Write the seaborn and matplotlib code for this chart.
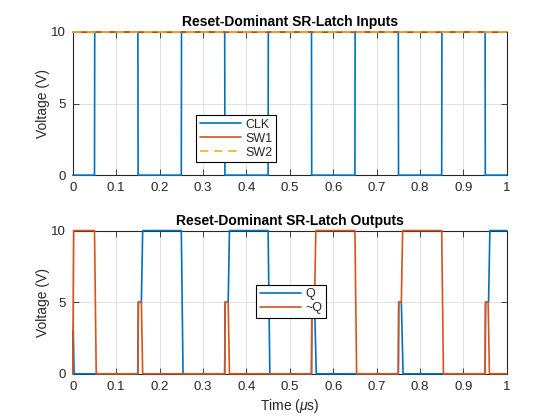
import matplotlib
matplotlib.use("Agg")
import matplotlib.pyplot as plt
import seaborn as sns
import pandas as pd

# ---- data ----
CLK_T = [0.000, 0.050, 0.0505, 0.150, 0.1505, 0.250, 0.2505, 0.350, 0.3505, 0.450, 0.4505,
         0.550, 0.5505, 0.650, 0.6505, 0.750, 0.7505, 0.850, 0.8505, 0.950, 0.9505, 1.000]
CLK_V = [0, 0, 10, 10, 0, 0, 10, 10, 0, 0, 10, 10, 0, 0, 10, 10, 0, 0, 10, 10, 0, 0]
SW_T = [0.0, 1.0]
SW1_V = [10, 10]
SW2_V = [10, 10]

Q_T = [0.000, 0.001, 0.003, 0.150, 0.151, 0.158, 0.161, 0.250, 0.254, 0.350, 0.351, 0.358,
       0.361, 0.450, 0.454, 0.550, 0.551, 0.557, 0.561, 0.750, 0.751, 0.757, 0.761, 0.950,
       0.951, 0.958, 0.961, 1.000]
Q_V = [0, 3, 0, 0, 5, 5, 10, 10, 0, 0, 5, 5, 10, 10, 0, 0, 5, 5, 0, 0, 5, 5, 0, 0, 5, 5, 10, 10]

NQ_T = [0.000, 0.002, 0.050, 0.054, 0.150, 0.151, 0.158, 0.161, 0.350, 0.351, 0.358, 0.361,
        0.550, 0.551, 0.557, 0.560, 0.650, 0.654, 0.750, 0.751, 0.757, 0.760, 0.850, 0.854,
        0.950, 0.951, 0.957, 0.960, 1.000]
NQ_V = [0, 10, 10, 0, 0, 5, 5, 0, 0, 5, 5, 0, 0, 5, 5, 10, 10, 0, 0, 5, 5, 10, 10, 0,
        0, 5, 5, 0, 0]

X_TICKS = [0, 0.1, 0.2, 0.3, 0.4, 0.5, 0.6, 0.7, 0.8, 0.9, 1]
X_LABELS = ["0", "0.1", "0.2", "0.3", "0.4", "0.5", "0.6", "0.7", "0.8", "0.9", "1"]
Y_TICKS = [0, 5, 10]

TITLE_TOP = "Reset-Dominant SR-Latch Inputs"
TITLE_BOT = "Reset-Dominant SR-Latch Outputs"

# ---- style ----
sns.set_style("ticks")
plt.rcParams['font.family'] = ['Liberation Sans', 'DejaVu Sans']
plt.rcParams['mathtext.fontset'] = 'custom'
plt.rcParams['mathtext.it'] = 'Liberation Sans:italic'
plt.rcParams['mathtext.rm'] = 'Liberation Sans'

C1, C2, C3 = "#0072BD", "#D95319", "#EDB120"
AX_COL = "#262626"
LW = 1.2

fig = plt.figure(figsize=(5.6, 4.2), dpi=100)
ax1 = fig.add_axes([0.13, 0.583, 0.775, 0.341])
ax2 = fig.add_axes([0.13, 0.11, 0.775, 0.341])

def line(ax, t, v, color, label, ls="-"):
    df = pd.DataFrame({"t": t, "v": v})
    sns.lineplot(data=df, x="t", y="v", ax=ax, color=color, lw=LW, label=label,
                 sort=False, estimator=None, linestyle=ls)

line(ax1, CLK_T, CLK_V, C1, "CLK")
line(ax1, SW_T, SW1_V, C2, "SW1")
line(ax1, SW_T, SW2_V, C3, "SW2", ls=(0, (5, 3.5)))

line(ax2, Q_T, Q_V, C1, "Q")
line(ax2, NQ_T, NQ_V, C2, "~Q")

for ax, title in [(ax1, TITLE_TOP), (ax2, TITLE_BOT)]:
    ax.set_xlim(0, 1)
    ax.set_ylim(0, 10)
    ax.set_xticks(X_TICKS)
    ax.set_xticklabels(X_LABELS)
    ax.set_yticks(Y_TICKS)
    ax.grid(True, color="#dcdcdc", lw=0.6)
    ax.set_axisbelow(True)
    for s in ax.spines.values():
        s.set_visible(True)
        s.set_color(AX_COL)
        s.set_linewidth(0.8)
        s.set_zorder(2.5)
    for ln in ax.lines:
        ln.set_clip_on(False)
        ln.set_zorder(3)
    ax.tick_params(direction="in", length=4, width=0.6, colors=AX_COL, labelsize=9.5,
                   top=True, right=True, labelcolor=AX_COL, pad=5)
    ax.set_title(title, fontsize=10, fontweight="bold", color="black", pad=4)
    ax.set_ylabel("Voltage (V)", fontsize=10, color=AX_COL, labelpad=1)
    ax.set_xlabel("")

ax2.set_xlabel(r"Time ($\mu$s)", fontsize=10, color=AX_COL, labelpad=3)

leg_kw = dict(fontsize=9, frameon=True, fancybox=False, framealpha=1, edgecolor="black",
              handlelength=3.3, handletextpad=0.3, borderpad=0.3, labelspacing=0.15,
              borderaxespad=0)
l1 = ax1.legend(loc="lower left", bbox_to_anchor=(0.285, 0.09), **leg_kw)
l2 = ax2.legend(loc="lower left", bbox_to_anchor=(0.423, 0.39), **leg_kw)
for l in (l1, l2):
    l.get_frame().set_linewidth(0.8)
    l.set_zorder(5)

fig.savefig("out.png", dpi=100)
